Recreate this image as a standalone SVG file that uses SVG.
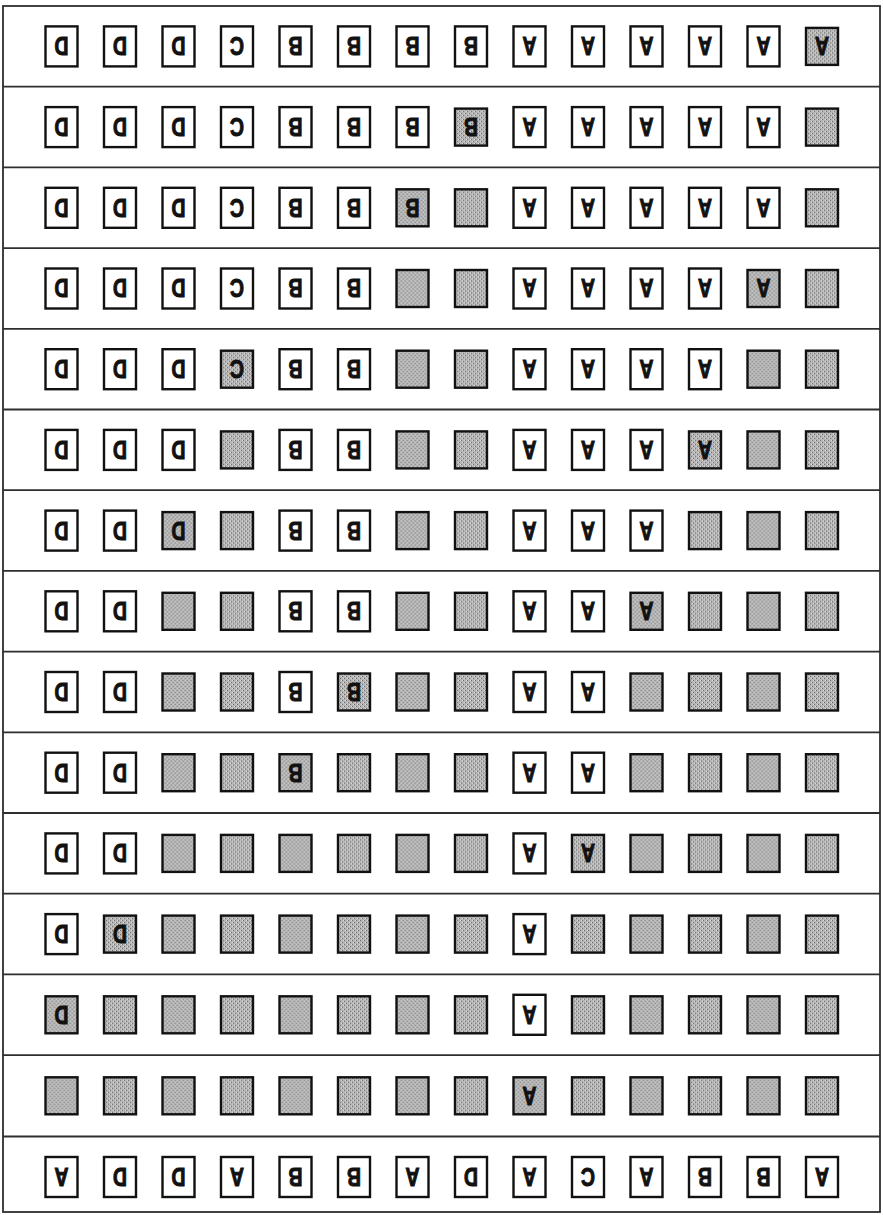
<svg xmlns="http://www.w3.org/2000/svg" xmlns:xlink="http://www.w3.org/1999/xlink" width="883" height="1215" viewBox="0 0 883 1215">
<style>
.frame{fill:none;stroke:#2e2e2e;stroke-width:1.8}
.rule{stroke:#2e2e2e;stroke-width:1.8}
.w{fill:#fff;stroke:#111;stroke-width:2.4}
.s{fill:url(#dots);stroke:#111;stroke-width:2.4}
.t{font-family:"Liberation Sans",Arial,sans-serif;font-weight:bold;font-size:25px;fill:#111;stroke:#111;stroke-width:1;text-anchor:middle}
</style>
<defs>
<pattern id="dots" width="4" height="4" patternUnits="userSpaceOnUse">
<rect width="4" height="4" fill="#b6b6b6"/>
<rect x="0" y="0" width="1" height="1" fill="#6a6a6a"/>
<rect x="2" y="2" width="1" height="1" fill="#6a6a6a"/>
<rect x="3" y="0" width="1" height="1" fill="#dcdcdc"/>
<rect x="1" y="2" width="1" height="1" fill="#dcdcdc"/>
</pattern>
<rect id="bw" class="w" x="-16" y="-20" width="32" height="40"/>
<rect id="bs" class="s" x="-16" y="-18.5" width="32" height="37"/>
</defs>
<rect width="883" height="1215" fill="#fff"/>
<g id="grid">
<rect class="frame" x="3" y="6" width="877" height="1206"/>
<line class="rule" x1="3" y1="86.7" x2="880" y2="86.7"/>
<line class="rule" x1="3" y1="167.4" x2="880" y2="167.4"/>
<line class="rule" x1="3" y1="248.1" x2="880" y2="248.1"/>
<line class="rule" x1="3" y1="328.8" x2="880" y2="328.8"/>
<line class="rule" x1="3" y1="409.5" x2="880" y2="409.5"/>
<line class="rule" x1="3" y1="490.2" x2="880" y2="490.2"/>
<line class="rule" x1="3" y1="570.9" x2="880" y2="570.9"/>
<line class="rule" x1="3" y1="651.6" x2="880" y2="651.6"/>
<line class="rule" x1="3" y1="732.3" x2="880" y2="732.3"/>
<line class="rule" x1="3" y1="813" x2="880" y2="813"/>
<line class="rule" x1="3" y1="893.7" x2="880" y2="893.7"/>
<line class="rule" x1="3" y1="974.4" x2="880" y2="974.4"/>
<line class="rule" x1="3" y1="1055.1" x2="880" y2="1055.1"/>
<line class="rule" x1="3" y1="1136.5" x2="880" y2="1136.5"/>
</g>
<g id="row1">
<g id="r1c1" transform="translate(61.5,46.4)"><use href="#bw"/><text class="t" y="9" transform="rotate(180) scale(0.78,1)">D</text></g>
<g id="r1c2" transform="translate(120,46.4)"><use href="#bw"/><text class="t" y="9" transform="rotate(180) scale(0.78,1)">D</text></g>
<g id="r1c3" transform="translate(178.5,46.4)"><use href="#bw"/><text class="t" y="9" transform="rotate(180) scale(0.78,1)">D</text></g>
<g id="r1c4" transform="translate(237,46.4)"><use href="#bw"/><text class="t" y="9" transform="rotate(180) scale(0.78,1)">C</text></g>
<g id="r1c5" transform="translate(295.5,46.4)"><use href="#bw"/><text class="t" y="9" transform="rotate(180) scale(0.78,1)">B</text></g>
<g id="r1c6" transform="translate(354,46.4)"><use href="#bw"/><text class="t" y="9" transform="rotate(180) scale(0.78,1)">B</text></g>
<g id="r1c7" transform="translate(412.5,46.4)"><use href="#bw"/><text class="t" y="9" transform="rotate(180) scale(0.78,1)">B</text></g>
<g id="r1c8" transform="translate(471,46.4)"><use href="#bw"/><text class="t" y="9" transform="rotate(180) scale(0.78,1)">B</text></g>
<g id="r1c9" transform="translate(529.5,46.4)"><use href="#bw"/><text class="t" y="9" transform="rotate(180) scale(0.78,1)">A</text></g>
<g id="r1c10" transform="translate(588,46.4)"><use href="#bw"/><text class="t" y="9" transform="rotate(180) scale(0.78,1)">A</text></g>
<g id="r1c11" transform="translate(646.5,46.4)"><use href="#bw"/><text class="t" y="9" transform="rotate(180) scale(0.78,1)">A</text></g>
<g id="r1c12" transform="translate(705,46.4)"><use href="#bw"/><text class="t" y="9" transform="rotate(180) scale(0.78,1)">A</text></g>
<g id="r1c13" transform="translate(763.5,46.4)"><use href="#bw"/><text class="t" y="9" transform="rotate(180) scale(0.78,1)">A</text></g>
<g id="r1c14" transform="translate(822,46.4)"><use href="#bs"/><text class="t" y="9" transform="rotate(180) scale(0.78,1)">A</text></g>
</g>
<g id="row2">
<g id="r2c1" transform="translate(61.5,127.1)"><use href="#bw"/><text class="t" y="9" transform="rotate(180) scale(0.78,1)">D</text></g>
<g id="r2c2" transform="translate(120,127.1)"><use href="#bw"/><text class="t" y="9" transform="rotate(180) scale(0.78,1)">D</text></g>
<g id="r2c3" transform="translate(178.5,127.1)"><use href="#bw"/><text class="t" y="9" transform="rotate(180) scale(0.78,1)">D</text></g>
<g id="r2c4" transform="translate(237,127.1)"><use href="#bw"/><text class="t" y="9" transform="rotate(180) scale(0.78,1)">C</text></g>
<g id="r2c5" transform="translate(295.5,127.1)"><use href="#bw"/><text class="t" y="9" transform="rotate(180) scale(0.78,1)">B</text></g>
<g id="r2c6" transform="translate(354,127.1)"><use href="#bw"/><text class="t" y="9" transform="rotate(180) scale(0.78,1)">B</text></g>
<g id="r2c7" transform="translate(412.5,127.1)"><use href="#bw"/><text class="t" y="9" transform="rotate(180) scale(0.78,1)">B</text></g>
<g id="r2c8" transform="translate(471,127.1)"><use href="#bs"/><text class="t" y="9" transform="rotate(180) scale(0.78,1)">B</text></g>
<g id="r2c9" transform="translate(529.5,127.1)"><use href="#bw"/><text class="t" y="9" transform="rotate(180) scale(0.78,1)">A</text></g>
<g id="r2c10" transform="translate(588,127.1)"><use href="#bw"/><text class="t" y="9" transform="rotate(180) scale(0.78,1)">A</text></g>
<g id="r2c11" transform="translate(646.5,127.1)"><use href="#bw"/><text class="t" y="9" transform="rotate(180) scale(0.78,1)">A</text></g>
<g id="r2c12" transform="translate(705,127.1)"><use href="#bw"/><text class="t" y="9" transform="rotate(180) scale(0.78,1)">A</text></g>
<g id="r2c13" transform="translate(763.5,127.1)"><use href="#bw"/><text class="t" y="9" transform="rotate(180) scale(0.78,1)">A</text></g>
<g id="r2c14" transform="translate(822,127.1)"><use href="#bs"/></g>
</g>
<g id="row3">
<g id="r3c1" transform="translate(61.5,207.8)"><use href="#bw"/><text class="t" y="9" transform="rotate(180) scale(0.78,1)">D</text></g>
<g id="r3c2" transform="translate(120,207.8)"><use href="#bw"/><text class="t" y="9" transform="rotate(180) scale(0.78,1)">D</text></g>
<g id="r3c3" transform="translate(178.5,207.8)"><use href="#bw"/><text class="t" y="9" transform="rotate(180) scale(0.78,1)">D</text></g>
<g id="r3c4" transform="translate(237,207.8)"><use href="#bw"/><text class="t" y="9" transform="rotate(180) scale(0.78,1)">C</text></g>
<g id="r3c5" transform="translate(295.5,207.8)"><use href="#bw"/><text class="t" y="9" transform="rotate(180) scale(0.78,1)">B</text></g>
<g id="r3c6" transform="translate(354,207.8)"><use href="#bw"/><text class="t" y="9" transform="rotate(180) scale(0.78,1)">B</text></g>
<g id="r3c7" transform="translate(412.5,207.8)"><use href="#bs"/><text class="t" y="9" transform="rotate(180) scale(0.78,1)">B</text></g>
<g id="r3c8" transform="translate(471,207.8)"><use href="#bs"/></g>
<g id="r3c9" transform="translate(529.5,207.8)"><use href="#bw"/><text class="t" y="9" transform="rotate(180) scale(0.78,1)">A</text></g>
<g id="r3c10" transform="translate(588,207.8)"><use href="#bw"/><text class="t" y="9" transform="rotate(180) scale(0.78,1)">A</text></g>
<g id="r3c11" transform="translate(646.5,207.8)"><use href="#bw"/><text class="t" y="9" transform="rotate(180) scale(0.78,1)">A</text></g>
<g id="r3c12" transform="translate(705,207.8)"><use href="#bw"/><text class="t" y="9" transform="rotate(180) scale(0.78,1)">A</text></g>
<g id="r3c13" transform="translate(763.5,207.8)"><use href="#bw"/><text class="t" y="9" transform="rotate(180) scale(0.78,1)">A</text></g>
<g id="r3c14" transform="translate(822,207.8)"><use href="#bs"/></g>
</g>
<g id="row4">
<g id="r4c1" transform="translate(61.5,288.5)"><use href="#bw"/><text class="t" y="9" transform="rotate(180) scale(0.78,1)">D</text></g>
<g id="r4c2" transform="translate(120,288.5)"><use href="#bw"/><text class="t" y="9" transform="rotate(180) scale(0.78,1)">D</text></g>
<g id="r4c3" transform="translate(178.5,288.5)"><use href="#bw"/><text class="t" y="9" transform="rotate(180) scale(0.78,1)">D</text></g>
<g id="r4c4" transform="translate(237,288.5)"><use href="#bw"/><text class="t" y="9" transform="rotate(180) scale(0.78,1)">C</text></g>
<g id="r4c5" transform="translate(295.5,288.5)"><use href="#bw"/><text class="t" y="9" transform="rotate(180) scale(0.78,1)">B</text></g>
<g id="r4c6" transform="translate(354,288.5)"><use href="#bw"/><text class="t" y="9" transform="rotate(180) scale(0.78,1)">B</text></g>
<g id="r4c7" transform="translate(412.5,288.5)"><use href="#bs"/></g>
<g id="r4c8" transform="translate(471,288.5)"><use href="#bs"/></g>
<g id="r4c9" transform="translate(529.5,288.5)"><use href="#bw"/><text class="t" y="9" transform="rotate(180) scale(0.78,1)">A</text></g>
<g id="r4c10" transform="translate(588,288.5)"><use href="#bw"/><text class="t" y="9" transform="rotate(180) scale(0.78,1)">A</text></g>
<g id="r4c11" transform="translate(646.5,288.5)"><use href="#bw"/><text class="t" y="9" transform="rotate(180) scale(0.78,1)">A</text></g>
<g id="r4c12" transform="translate(705,288.5)"><use href="#bw"/><text class="t" y="9" transform="rotate(180) scale(0.78,1)">A</text></g>
<g id="r4c13" transform="translate(763.5,288.5)"><use href="#bs"/><text class="t" y="9" transform="rotate(180) scale(0.78,1)">A</text></g>
<g id="r4c14" transform="translate(822,288.5)"><use href="#bs"/></g>
</g>
<g id="row5">
<g id="r5c1" transform="translate(61.5,369.2)"><use href="#bw"/><text class="t" y="9" transform="rotate(180) scale(0.78,1)">D</text></g>
<g id="r5c2" transform="translate(120,369.2)"><use href="#bw"/><text class="t" y="9" transform="rotate(180) scale(0.78,1)">D</text></g>
<g id="r5c3" transform="translate(178.5,369.2)"><use href="#bw"/><text class="t" y="9" transform="rotate(180) scale(0.78,1)">D</text></g>
<g id="r5c4" transform="translate(237,369.2)"><use href="#bs"/><text class="t" y="9" transform="rotate(180) scale(0.78,1)">C</text></g>
<g id="r5c5" transform="translate(295.5,369.2)"><use href="#bw"/><text class="t" y="9" transform="rotate(180) scale(0.78,1)">B</text></g>
<g id="r5c6" transform="translate(354,369.2)"><use href="#bw"/><text class="t" y="9" transform="rotate(180) scale(0.78,1)">B</text></g>
<g id="r5c7" transform="translate(412.5,369.2)"><use href="#bs"/></g>
<g id="r5c8" transform="translate(471,369.2)"><use href="#bs"/></g>
<g id="r5c9" transform="translate(529.5,369.2)"><use href="#bw"/><text class="t" y="9" transform="rotate(180) scale(0.78,1)">A</text></g>
<g id="r5c10" transform="translate(588,369.2)"><use href="#bw"/><text class="t" y="9" transform="rotate(180) scale(0.78,1)">A</text></g>
<g id="r5c11" transform="translate(646.5,369.2)"><use href="#bw"/><text class="t" y="9" transform="rotate(180) scale(0.78,1)">A</text></g>
<g id="r5c12" transform="translate(705,369.2)"><use href="#bw"/><text class="t" y="9" transform="rotate(180) scale(0.78,1)">A</text></g>
<g id="r5c13" transform="translate(763.5,369.2)"><use href="#bs"/></g>
<g id="r5c14" transform="translate(822,369.2)"><use href="#bs"/></g>
</g>
<g id="row6">
<g id="r6c1" transform="translate(61.5,449.9)"><use href="#bw"/><text class="t" y="9" transform="rotate(180) scale(0.78,1)">D</text></g>
<g id="r6c2" transform="translate(120,449.9)"><use href="#bw"/><text class="t" y="9" transform="rotate(180) scale(0.78,1)">D</text></g>
<g id="r6c3" transform="translate(178.5,449.9)"><use href="#bw"/><text class="t" y="9" transform="rotate(180) scale(0.78,1)">D</text></g>
<g id="r6c4" transform="translate(237,449.9)"><use href="#bs"/></g>
<g id="r6c5" transform="translate(295.5,449.9)"><use href="#bw"/><text class="t" y="9" transform="rotate(180) scale(0.78,1)">B</text></g>
<g id="r6c6" transform="translate(354,449.9)"><use href="#bw"/><text class="t" y="9" transform="rotate(180) scale(0.78,1)">B</text></g>
<g id="r6c7" transform="translate(412.5,449.9)"><use href="#bs"/></g>
<g id="r6c8" transform="translate(471,449.9)"><use href="#bs"/></g>
<g id="r6c9" transform="translate(529.5,449.9)"><use href="#bw"/><text class="t" y="9" transform="rotate(180) scale(0.78,1)">A</text></g>
<g id="r6c10" transform="translate(588,449.9)"><use href="#bw"/><text class="t" y="9" transform="rotate(180) scale(0.78,1)">A</text></g>
<g id="r6c11" transform="translate(646.5,449.9)"><use href="#bw"/><text class="t" y="9" transform="rotate(180) scale(0.78,1)">A</text></g>
<g id="r6c12" transform="translate(705,449.9)"><use href="#bs"/><text class="t" y="9" transform="rotate(180) scale(0.78,1)">A</text></g>
<g id="r6c13" transform="translate(763.5,449.9)"><use href="#bs"/></g>
<g id="r6c14" transform="translate(822,449.9)"><use href="#bs"/></g>
</g>
<g id="row7">
<g id="r7c1" transform="translate(61.5,530.6)"><use href="#bw"/><text class="t" y="9" transform="rotate(180) scale(0.78,1)">D</text></g>
<g id="r7c2" transform="translate(120,530.6)"><use href="#bw"/><text class="t" y="9" transform="rotate(180) scale(0.78,1)">D</text></g>
<g id="r7c3" transform="translate(178.5,530.6)"><use href="#bs"/><text class="t" y="9" transform="rotate(180) scale(0.78,1)">D</text></g>
<g id="r7c4" transform="translate(237,530.6)"><use href="#bs"/></g>
<g id="r7c5" transform="translate(295.5,530.6)"><use href="#bw"/><text class="t" y="9" transform="rotate(180) scale(0.78,1)">B</text></g>
<g id="r7c6" transform="translate(354,530.6)"><use href="#bw"/><text class="t" y="9" transform="rotate(180) scale(0.78,1)">B</text></g>
<g id="r7c7" transform="translate(412.5,530.6)"><use href="#bs"/></g>
<g id="r7c8" transform="translate(471,530.6)"><use href="#bs"/></g>
<g id="r7c9" transform="translate(529.5,530.6)"><use href="#bw"/><text class="t" y="9" transform="rotate(180) scale(0.78,1)">A</text></g>
<g id="r7c10" transform="translate(588,530.6)"><use href="#bw"/><text class="t" y="9" transform="rotate(180) scale(0.78,1)">A</text></g>
<g id="r7c11" transform="translate(646.5,530.6)"><use href="#bw"/><text class="t" y="9" transform="rotate(180) scale(0.78,1)">A</text></g>
<g id="r7c12" transform="translate(705,530.6)"><use href="#bs"/></g>
<g id="r7c13" transform="translate(763.5,530.6)"><use href="#bs"/></g>
<g id="r7c14" transform="translate(822,530.6)"><use href="#bs"/></g>
</g>
<g id="row8">
<g id="r8c1" transform="translate(61.5,611.3)"><use href="#bw"/><text class="t" y="9" transform="rotate(180) scale(0.78,1)">D</text></g>
<g id="r8c2" transform="translate(120,611.3)"><use href="#bw"/><text class="t" y="9" transform="rotate(180) scale(0.78,1)">D</text></g>
<g id="r8c3" transform="translate(178.5,611.3)"><use href="#bs"/></g>
<g id="r8c4" transform="translate(237,611.3)"><use href="#bs"/></g>
<g id="r8c5" transform="translate(295.5,611.3)"><use href="#bw"/><text class="t" y="9" transform="rotate(180) scale(0.78,1)">B</text></g>
<g id="r8c6" transform="translate(354,611.3)"><use href="#bw"/><text class="t" y="9" transform="rotate(180) scale(0.78,1)">B</text></g>
<g id="r8c7" transform="translate(412.5,611.3)"><use href="#bs"/></g>
<g id="r8c8" transform="translate(471,611.3)"><use href="#bs"/></g>
<g id="r8c9" transform="translate(529.5,611.3)"><use href="#bw"/><text class="t" y="9" transform="rotate(180) scale(0.78,1)">A</text></g>
<g id="r8c10" transform="translate(588,611.3)"><use href="#bw"/><text class="t" y="9" transform="rotate(180) scale(0.78,1)">A</text></g>
<g id="r8c11" transform="translate(646.5,611.3)"><use href="#bs"/><text class="t" y="9" transform="rotate(180) scale(0.78,1)">A</text></g>
<g id="r8c12" transform="translate(705,611.3)"><use href="#bs"/></g>
<g id="r8c13" transform="translate(763.5,611.3)"><use href="#bs"/></g>
<g id="r8c14" transform="translate(822,611.3)"><use href="#bs"/></g>
</g>
<g id="row9">
<g id="r9c1" transform="translate(61.5,692)"><use href="#bw"/><text class="t" y="9" transform="rotate(180) scale(0.78,1)">D</text></g>
<g id="r9c2" transform="translate(120,692)"><use href="#bw"/><text class="t" y="9" transform="rotate(180) scale(0.78,1)">D</text></g>
<g id="r9c3" transform="translate(178.5,692)"><use href="#bs"/></g>
<g id="r9c4" transform="translate(237,692)"><use href="#bs"/></g>
<g id="r9c5" transform="translate(295.5,692)"><use href="#bw"/><text class="t" y="9" transform="rotate(180) scale(0.78,1)">B</text></g>
<g id="r9c6" transform="translate(354,692)"><use href="#bs"/><text class="t" y="9" transform="rotate(180) scale(0.78,1)">B</text></g>
<g id="r9c7" transform="translate(412.5,692)"><use href="#bs"/></g>
<g id="r9c8" transform="translate(471,692)"><use href="#bs"/></g>
<g id="r9c9" transform="translate(529.5,692)"><use href="#bw"/><text class="t" y="9" transform="rotate(180) scale(0.78,1)">A</text></g>
<g id="r9c10" transform="translate(588,692)"><use href="#bw"/><text class="t" y="9" transform="rotate(180) scale(0.78,1)">A</text></g>
<g id="r9c11" transform="translate(646.5,692)"><use href="#bs"/></g>
<g id="r9c12" transform="translate(705,692)"><use href="#bs"/></g>
<g id="r9c13" transform="translate(763.5,692)"><use href="#bs"/></g>
<g id="r9c14" transform="translate(822,692)"><use href="#bs"/></g>
</g>
<g id="row10">
<g id="r10c1" transform="translate(61.5,772.7)"><use href="#bw"/><text class="t" y="9" transform="rotate(180) scale(0.78,1)">D</text></g>
<g id="r10c2" transform="translate(120,772.7)"><use href="#bw"/><text class="t" y="9" transform="rotate(180) scale(0.78,1)">D</text></g>
<g id="r10c3" transform="translate(178.5,772.7)"><use href="#bs"/></g>
<g id="r10c4" transform="translate(237,772.7)"><use href="#bs"/></g>
<g id="r10c5" transform="translate(295.5,772.7)"><use href="#bs"/><text class="t" y="9" transform="rotate(180) scale(0.78,1)">B</text></g>
<g id="r10c6" transform="translate(354,772.7)"><use href="#bs"/></g>
<g id="r10c7" transform="translate(412.5,772.7)"><use href="#bs"/></g>
<g id="r10c8" transform="translate(471,772.7)"><use href="#bs"/></g>
<g id="r10c9" transform="translate(529.5,772.7)"><use href="#bw"/><text class="t" y="9" transform="rotate(180) scale(0.78,1)">A</text></g>
<g id="r10c10" transform="translate(588,772.7)"><use href="#bw"/><text class="t" y="9" transform="rotate(180) scale(0.78,1)">A</text></g>
<g id="r10c11" transform="translate(646.5,772.7)"><use href="#bs"/></g>
<g id="r10c12" transform="translate(705,772.7)"><use href="#bs"/></g>
<g id="r10c13" transform="translate(763.5,772.7)"><use href="#bs"/></g>
<g id="r10c14" transform="translate(822,772.7)"><use href="#bs"/></g>
</g>
<g id="row11">
<g id="r11c1" transform="translate(61.5,853.4)"><use href="#bw"/><text class="t" y="9" transform="rotate(180) scale(0.78,1)">D</text></g>
<g id="r11c2" transform="translate(120,853.4)"><use href="#bw"/><text class="t" y="9" transform="rotate(180) scale(0.78,1)">D</text></g>
<g id="r11c3" transform="translate(178.5,853.4)"><use href="#bs"/></g>
<g id="r11c4" transform="translate(237,853.4)"><use href="#bs"/></g>
<g id="r11c5" transform="translate(295.5,853.4)"><use href="#bs"/></g>
<g id="r11c6" transform="translate(354,853.4)"><use href="#bs"/></g>
<g id="r11c7" transform="translate(412.5,853.4)"><use href="#bs"/></g>
<g id="r11c8" transform="translate(471,853.4)"><use href="#bs"/></g>
<g id="r11c9" transform="translate(529.5,853.4)"><use href="#bw"/><text class="t" y="9" transform="rotate(180) scale(0.78,1)">A</text></g>
<g id="r11c10" transform="translate(588,853.4)"><use href="#bs"/><text class="t" y="9" transform="rotate(180) scale(0.78,1)">A</text></g>
<g id="r11c11" transform="translate(646.5,853.4)"><use href="#bs"/></g>
<g id="r11c12" transform="translate(705,853.4)"><use href="#bs"/></g>
<g id="r11c13" transform="translate(763.5,853.4)"><use href="#bs"/></g>
<g id="r11c14" transform="translate(822,853.4)"><use href="#bs"/></g>
</g>
<g id="row12">
<g id="r12c1" transform="translate(61.5,934.1)"><use href="#bw"/><text class="t" y="9" transform="rotate(180) scale(0.78,1)">D</text></g>
<g id="r12c2" transform="translate(120,934.1)"><use href="#bs"/><text class="t" y="9" transform="rotate(180) scale(0.78,1)">D</text></g>
<g id="r12c3" transform="translate(178.5,934.1)"><use href="#bs"/></g>
<g id="r12c4" transform="translate(237,934.1)"><use href="#bs"/></g>
<g id="r12c5" transform="translate(295.5,934.1)"><use href="#bs"/></g>
<g id="r12c6" transform="translate(354,934.1)"><use href="#bs"/></g>
<g id="r12c7" transform="translate(412.5,934.1)"><use href="#bs"/></g>
<g id="r12c8" transform="translate(471,934.1)"><use href="#bs"/></g>
<g id="r12c9" transform="translate(529.5,934.1)"><use href="#bw"/><text class="t" y="9" transform="rotate(180) scale(0.78,1)">A</text></g>
<g id="r12c10" transform="translate(588,934.1)"><use href="#bs"/></g>
<g id="r12c11" transform="translate(646.5,934.1)"><use href="#bs"/></g>
<g id="r12c12" transform="translate(705,934.1)"><use href="#bs"/></g>
<g id="r12c13" transform="translate(763.5,934.1)"><use href="#bs"/></g>
<g id="r12c14" transform="translate(822,934.1)"><use href="#bs"/></g>
</g>
<g id="row13">
<g id="r13c1" transform="translate(61.5,1014.8)"><use href="#bs"/><text class="t" y="9" transform="rotate(180) scale(0.78,1)">D</text></g>
<g id="r13c2" transform="translate(120,1014.8)"><use href="#bs"/></g>
<g id="r13c3" transform="translate(178.5,1014.8)"><use href="#bs"/></g>
<g id="r13c4" transform="translate(237,1014.8)"><use href="#bs"/></g>
<g id="r13c5" transform="translate(295.5,1014.8)"><use href="#bs"/></g>
<g id="r13c6" transform="translate(354,1014.8)"><use href="#bs"/></g>
<g id="r13c7" transform="translate(412.5,1014.8)"><use href="#bs"/></g>
<g id="r13c8" transform="translate(471,1014.8)"><use href="#bs"/></g>
<g id="r13c9" transform="translate(529.5,1014.8)"><use href="#bw"/><text class="t" y="9" transform="rotate(180) scale(0.78,1)">A</text></g>
<g id="r13c10" transform="translate(588,1014.8)"><use href="#bs"/></g>
<g id="r13c11" transform="translate(646.5,1014.8)"><use href="#bs"/></g>
<g id="r13c12" transform="translate(705,1014.8)"><use href="#bs"/></g>
<g id="r13c13" transform="translate(763.5,1014.8)"><use href="#bs"/></g>
<g id="r13c14" transform="translate(822,1014.8)"><use href="#bs"/></g>
</g>
<g id="row14">
<g id="r14c1" transform="translate(61.5,1095.8)"><use href="#bs"/></g>
<g id="r14c2" transform="translate(120,1095.8)"><use href="#bs"/></g>
<g id="r14c3" transform="translate(178.5,1095.8)"><use href="#bs"/></g>
<g id="r14c4" transform="translate(237,1095.8)"><use href="#bs"/></g>
<g id="r14c5" transform="translate(295.5,1095.8)"><use href="#bs"/></g>
<g id="r14c6" transform="translate(354,1095.8)"><use href="#bs"/></g>
<g id="r14c7" transform="translate(412.5,1095.8)"><use href="#bs"/></g>
<g id="r14c8" transform="translate(471,1095.8)"><use href="#bs"/></g>
<g id="r14c9" transform="translate(529.5,1095.8)"><use href="#bs"/><text class="t" y="9" transform="rotate(180) scale(0.78,1)">A</text></g>
<g id="r14c10" transform="translate(588,1095.8)"><use href="#bs"/></g>
<g id="r14c11" transform="translate(646.5,1095.8)"><use href="#bs"/></g>
<g id="r14c12" transform="translate(705,1095.8)"><use href="#bs"/></g>
<g id="r14c13" transform="translate(763.5,1095.8)"><use href="#bs"/></g>
<g id="r14c14" transform="translate(822,1095.8)"><use href="#bs"/></g>
</g>
<g id="row15">
<g id="r15c1" transform="translate(61.5,1177)"><use href="#bw"/><text class="t" y="9" transform="rotate(180) scale(0.78,1)">A</text></g>
<g id="r15c2" transform="translate(120,1177)"><use href="#bw"/><text class="t" y="9" transform="rotate(180) scale(0.78,1)">D</text></g>
<g id="r15c3" transform="translate(178.5,1177)"><use href="#bw"/><text class="t" y="9" transform="rotate(180) scale(0.78,1)">D</text></g>
<g id="r15c4" transform="translate(237,1177)"><use href="#bw"/><text class="t" y="9" transform="rotate(180) scale(0.78,1)">A</text></g>
<g id="r15c5" transform="translate(295.5,1177)"><use href="#bw"/><text class="t" y="9" transform="rotate(180) scale(0.78,1)">B</text></g>
<g id="r15c6" transform="translate(354,1177)"><use href="#bw"/><text class="t" y="9" transform="rotate(180) scale(0.78,1)">B</text></g>
<g id="r15c7" transform="translate(412.5,1177)"><use href="#bw"/><text class="t" y="9" transform="rotate(180) scale(0.78,1)">A</text></g>
<g id="r15c8" transform="translate(471,1177)"><use href="#bw"/><text class="t" y="9" transform="rotate(180) scale(0.78,1)">D</text></g>
<g id="r15c9" transform="translate(529.5,1177)"><use href="#bw"/><text class="t" y="9" transform="rotate(180) scale(0.78,1)">A</text></g>
<g id="r15c10" transform="translate(588,1177)"><use href="#bw"/><text class="t" y="9" transform="rotate(180) scale(0.78,1)">C</text></g>
<g id="r15c11" transform="translate(646.5,1177)"><use href="#bw"/><text class="t" y="9" transform="rotate(180) scale(0.78,1)">A</text></g>
<g id="r15c12" transform="translate(705,1177)"><use href="#bw"/><text class="t" y="9" transform="rotate(180) scale(0.78,1)">B</text></g>
<g id="r15c13" transform="translate(763.5,1177)"><use href="#bw"/><text class="t" y="9" transform="rotate(180) scale(0.78,1)">B</text></g>
<g id="r15c14" transform="translate(822,1177)"><use href="#bw"/><text class="t" y="9" transform="rotate(180) scale(0.78,1)">A</text></g>
</g>
</svg>
